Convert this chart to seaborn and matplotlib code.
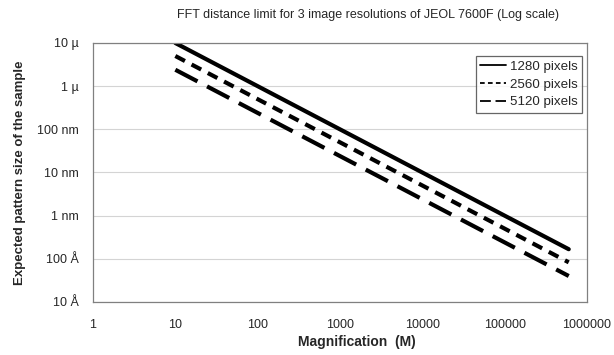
import pandas as pd
import matplotlib
matplotlib.use("Agg")
import matplotlib.pyplot as plt
from matplotlib.lines import Line2D
from matplotlib.ticker import FixedLocator, FixedFormatter, NullLocator
import seaborn as sns

# values (size in metres vs magnification)
magnification = [10, 100, 1000, 10000, 100000, 600000]
size_1280 = [1.0e-5, 1.0e-6, 1.0e-7, 1.0e-8, 1.0e-9, 1.67e-10]
size_2560 = [5.0e-6, 5.0e-7, 5.0e-8, 5.0e-9, 5.0e-10, 8.3e-11]
size_5120 = [2.4e-6, 2.4e-7, 2.4e-8, 2.4e-9, 2.4e-10, 4.0e-11]
series_names = ["1280 pixels", "2560 pixels", "5120 pixels"]

x_ticks = [1, 10, 100, 1000, 10000, 100000, 1000000]
x_labels = ["1", "10", "100", "1000", "10000", "100000", "1000000"]
y_ticks = [1e-11, 1e-10, 1e-9, 1e-8, 1e-7, 1e-6, 1e-5]
y_labels = ["10 Å", "100 Å", "1 nm", "10 nm", "100 nm", "1 µ", "10 µ"]

df = pd.concat([
    pd.DataFrame({"mag": magnification, "size": s, "res": n})
    for s, n in zip([size_1280, size_2560, size_5120], series_names)
])

sns.set_style("white")
plt.rcParams["font.family"] = ["Liberation Sans", "DejaVu Sans"]

styles = {
    "1280 pixels": "-",
    "2560 pixels": (0, (2.6, 1.8)),
    "5120 pixels": (0, (6, 2.6)),
}

fig = plt.figure(figsize=(6.14, 3.55), dpi=100)
ax = fig.add_axes([93 / 614, 1 - 302 / 355, (587 - 93) / 614, (302 - 43) / 355])

for name in series_names:
    sub = df[df["res"] == name]
    sns.lineplot(data=sub, x="mag", y="size", ax=ax, color="black",
                 linewidth=3.0, linestyle=styles[name], legend=False)

ax.set_xscale("log")
ax.set_yscale("log")
ax.set_xlim(1, 1e6)
ax.set_ylim(1e-11, 1e-5)
ax.xaxis.set_major_locator(FixedLocator(x_ticks))
ax.xaxis.set_major_formatter(FixedFormatter(x_labels))
ax.xaxis.set_minor_locator(NullLocator())
ax.yaxis.set_major_locator(FixedLocator(y_ticks))
ax.yaxis.set_major_formatter(FixedFormatter(y_labels))
ax.yaxis.set_minor_locator(NullLocator())

ax.grid(axis="y", color="#d4d4d4", linewidth=0.8)
ax.set_axisbelow(True)
for sp in ax.spines.values():
    sp.set_color("#808080")
    sp.set_linewidth(0.9)
ax.tick_params(axis="both", which="major", length=4, width=0.8, color="#808080",
               labelsize=9, pad=6, direction="out")
ax.tick_params(axis="x", pad=8)

ax.set_xlabel("Magnification  (M)", fontsize=10, fontweight="bold")
ax.xaxis.set_label_coords((357 - 93) / 494, -(342 - 302) / 259)
ax.xaxis.label.set_va("center")
ax.set_ylabel("Expected pattern size of the sample", fontsize=9.5, fontweight="bold", labelpad=8)
fig.text(368 / 614, 1 - 15 / 355, "FFT distance limit for 3 image resolutions of JEOL 7600F (Log scale)",
         ha="center", va="center", fontsize=9)

handles = [Line2D([], [], color="black", linewidth=1.3, linestyle=styles[n]) for n in series_names]
leg = ax.legend(handles, series_names, loc="upper right", bbox_to_anchor=(0.99, 0.95),
                fontsize=9.6, frameon=True, fancybox=False, handlelength=1.9,
                handletextpad=0.3, borderpad=0.35, labelspacing=0.4, borderaxespad=0)
leg.get_frame().set_edgecolor("#404040")
leg.get_frame().set_linewidth(0.9)

fig.savefig("out.png", dpi=100)
